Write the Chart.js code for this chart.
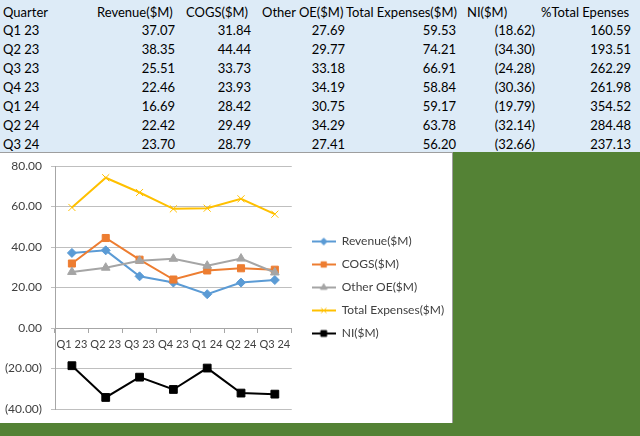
<!DOCTYPE html>
<html>
<head>
<meta charset="utf-8">
<script src="https://cdn.jsdelivr.net/npm/chart.js@4.4.1/dist/chart.umd.min.js"></script>
<style>
  html, body { margin: 0; padding: 0; }
  body { width: 640px; height: 436px; background: #548235; position: relative; overflow: hidden; font-family: Lato, sans-serif; }
  .sheet { position: absolute; left: 0; top: 0; width: 640px; height: 152px; background: #ddebf7; }
  .cell { position: absolute; height: 19px; line-height: 19px; font-size: 13px; color: #000; white-space: nowrap; }
  .num { text-align: right; }
  .chart-box { position: absolute; left: 0; top: 152px; width: 452px; height: 270px; background: #fff;
    border-top: 1px solid #9e9e9e; border-right: 1px solid #9e9e9e; }
</style>
</head>
<body>
<div class="sheet" id="sheet"></div>
<div class="chart-box"><canvas id="grafico" width="452" height="270"></canvas></div>
<script>
// dados
const quarters = ['Q1 23', 'Q2 23', 'Q3 23', 'Q4 23', 'Q1 24', 'Q2 24', 'Q3 24'];
const revenue = [37.07, 38.35, 25.51, 22.46, 16.69, 22.42, 23.70];
const cogs = [31.84, 44.44, 33.73, 23.93, 28.42, 29.49, 28.79];
const otherOE = [27.69, 29.77, 33.18, 34.19, 30.75, 34.29, 27.41];
const totalExp = [59.53, 74.21, 66.91, 58.84, 59.17, 63.78, 56.20];
const netIncome = [-18.62, -34.30, -24.28, -30.36, -19.79, -32.14, -32.66];
const pctTotal = [160.59, 193.51, 262.29, 261.98, 354.52, 284.48, 237.13];
const yTicks = [-40, -20, 0, 20, 40, 60, 80];

function fmt(v) {
  const s = Math.abs(v).toFixed(2);
  return v < 0 ? '(' + s + ')' : s;
}

// === PLANILHA ===
const sheet = document.getElementById('sheet');
const cols = [
  { head: 'Quarter', left: 3, right: null, vals: quarters },
  { head: 'Revenue($M)', left: 97, right: 175, vals: revenue },
  { head: 'COGS($M)', left: 186, right: 251, vals: cogs },
  { head: 'Other OE($M)', left: 262, right: 345, vals: otherOE },
  { head: 'Total Expenses($M)', left: 346, right: 456, vals: totalExp },
  { head: 'NI($M)', left: 467, right: 535, vals: netIncome },
  { head: '%Total Epenses', left: 541, right: 631, vals: pctTotal }
];
function addCell(text, top, left, right) {
  const d = document.createElement('div');
  d.className = 'cell';
  d.textContent = text;
  d.style.top = top + 'px';
  if (right == null) {
    d.style.left = left + 'px';
  } else {
    d.classList.add('num');
    d.style.left = (right - 120) + 'px';
    d.style.width = '120px';
  }
  sheet.appendChild(d);
}
cols.forEach(c => {
  addCell(c.head, 2.5, c.left, null);
  c.vals.forEach((v, i) => {
    const top = 2.5 + (i + 1) * 18.9;
    if (c.right == null) addCell(v, top, c.left, null);
    else addCell(fmt(v), top, null, c.right);
  });
});

// === GRÁFICO ===
const series = [
  { label: 'Revenue($M)', data: revenue, color: '#5b9bd5', style: 'rectRot', r: 4.5 },
  { label: 'COGS($M)', data: cogs, color: '#ed7d31', style: 'rect', r: 5 },
  { label: 'Other OE($M)', data: otherOE, color: '#a5a5a5', style: 'triangle', r: 5 },
  { label: 'Total Expenses($M)', data: totalExp, color: '#ffc000', style: 'crossRot', r: 5 },
  { label: 'NI($M)', data: netIncome, color: '#000000', style: 'rect', r: 5.5 }
];

// icone da legenda: linha + marcador
function legendIcon(s) {
  const c = document.createElement('canvas');
  c.width = 24; c.height = 12;
  const g = c.getContext('2d');
  g.strokeStyle = s.color;
  g.lineWidth = 2;
  g.beginPath(); g.moveTo(0, 6); g.lineTo(24, 6); g.stroke();
  g.fillStyle = s.color;
  g.lineWidth = 1;
  Chart.helpers.drawPoint(g, { pointStyle: s.style, radius: s.r * 0.75, borderWidth: 1 }, 12, 6);
  if (s.style !== 'crossRot') g.fill();
  return c;
}

// legenda fica à direita do gráfico, ocupando o resto do canvas
const shiftLegend = {
  id: 'shiftLegend',
  afterLayout(chart) {
    const lg = chart.legend;
    lg.left = chart.chartArea.right + 9;
    lg.right = chart.width;
    lg.width = lg.right - lg.left;
  }
};

const ctx = document.getElementById('grafico');
new Chart(ctx, {
  type: 'line',
  data: {
    labels: quarters,
    datasets: series.map((s, i) => ({
      label: s.label,
      data: s.data,
      borderColor: s.color,
      backgroundColor: s.color,
      borderWidth: 2,
      pointStyle: s.style,
      pointRadius: s.r,
      pointBorderWidth: 1,
      pointBackgroundColor: s.color,
      pointBorderColor: s.color,
      tension: 0,
      order: series.length - i
    }))
  },
  options: {
    responsive: false,
    animation: false,
    layout: { padding: { top: 13, bottom: 14, left: 0, right: 63 } },
    scales: {
      x: {
        type: 'category',
        offset: true,
        position: { y: 0 },
        grid: { display: true, drawOnChartArea: false, drawTicks: true, tickLength: 4, offset: true, color: '#a6a6a6' },
        border: { display: true, color: '#a6a6a6', width: 1 },
        ticks: { color: '#404040', font: { family: 'Lato', size: 11 }, padding: 6, maxRotation: 0, autoSkip: false }
      },
      y: {
        min: -40,
        max: 80,
        afterBuildTicks: sc => { sc.ticks = yTicks.map(v => ({ value: v })); },
        afterFit: sc => { sc.width = 55; },
        grid: { color: '#bfbfbf', tickLength: 4, drawTicks: true },
        border: { display: true, color: '#a6a6a6' },
        ticks: { color: '#404040', font: { family: 'Lato', size: 12, lineHeight: 0.6 }, padding: 9, callback: v => fmt(v) }
      }
    },
    plugins: {
      tooltip: { enabled: false },
      title: { display: false },
      legend: {
        position: 'right',
        align: 'center',
        labels: {
          usePointStyle: true,
          pointStyleWidth: 24,
          padding: 11,
          color: '#404040',
          font: { family: 'Lato', size: 12 },
          generateLabels: chart => series.map((s, i) => ({
            text: s.label,
            pointStyle: legendIcon(s),
            fillStyle: s.color,
            strokeStyle: s.color,
            lineWidth: 0,
            hidden: false,
            datasetIndex: i,
            fontColor: '#404040'
          }))
        }
      }
    }
  },
  plugins: [shiftLegend]
});
</script>
</body>
</html>
